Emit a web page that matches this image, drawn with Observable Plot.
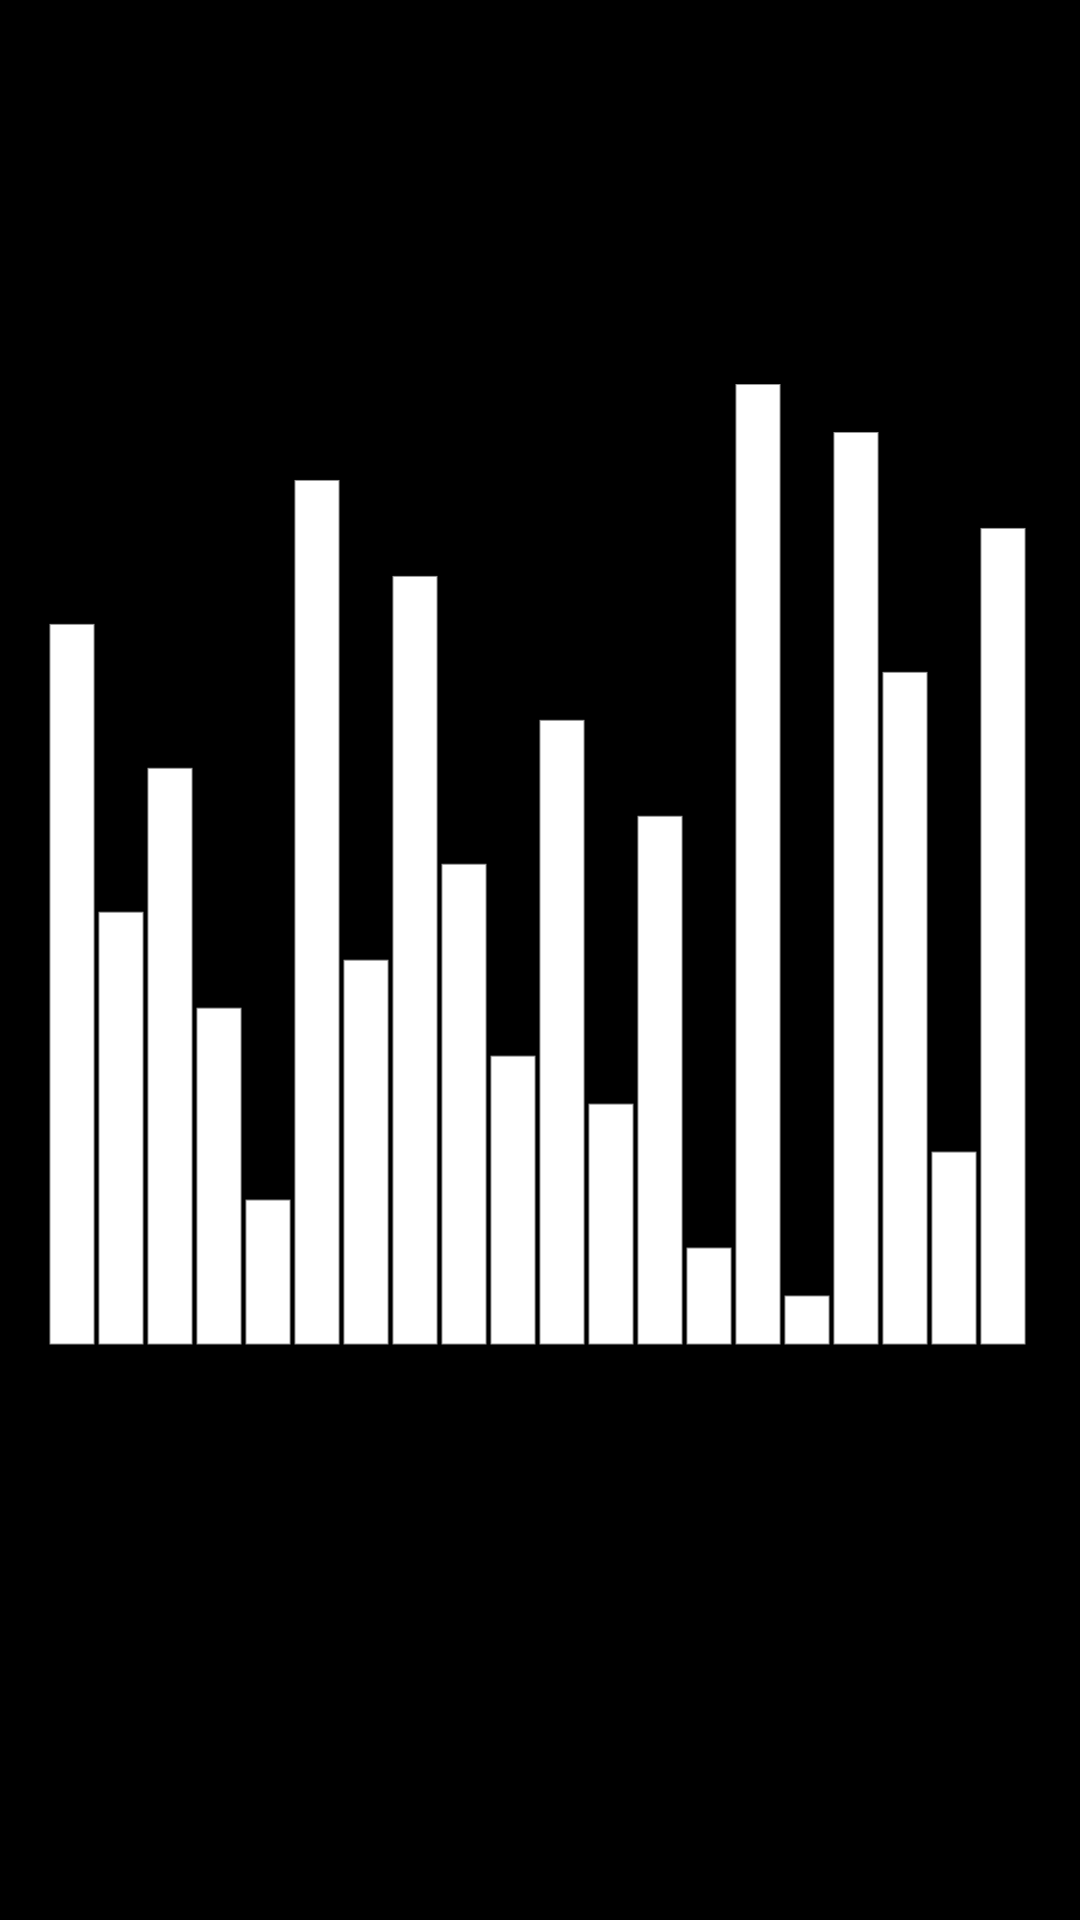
<!DOCTYPE html>
<html>
<head>
<meta charset="utf-8">
<script src="https://cdn.jsdelivr.net/npm/d3@7"></script>
<script src="https://cdn.jsdelivr.net/npm/@observablehq/plot@0.6"></script>
<style>
  html, body { margin: 0; padding: 0; background: #000; }
  #chart svg { display: block; }
</style>
</head>
<body>
<div id="chart"></div>
<script>
const categories = ["A","B","C","D","E","F","G","H","I","J","K","L","M","N","O","P","Q","R","S","T"];
const values = [15, 9, 12, 7, 3, 18, 8, 16, 10, 6, 13, 5, 11, 2, 20, 1, 19, 14, 4, 17];

const data = categories.map((c, i) => ({category: c, value: values[i]}));

const chart = Plot.plot({
  width: 1080,
  height: 1920,
  marginTop: 384.5,
  marginBottom: 576,
  marginLeft: 42.6,
  marginRight: 47,
  style: {background: "#000", color: "#000"},
  x: {domain: categories, padding: 0.095, axis: null},
  y: {domain: [0, 20], axis: null},
  marks: [
    Plot.barY(data, {x: "category", y: "value", fill: "#fff", stroke: "#999", strokeWidth: 1})
  ]
});
document.getElementById("chart").appendChild(chart);
</script>
</body>
</html>
